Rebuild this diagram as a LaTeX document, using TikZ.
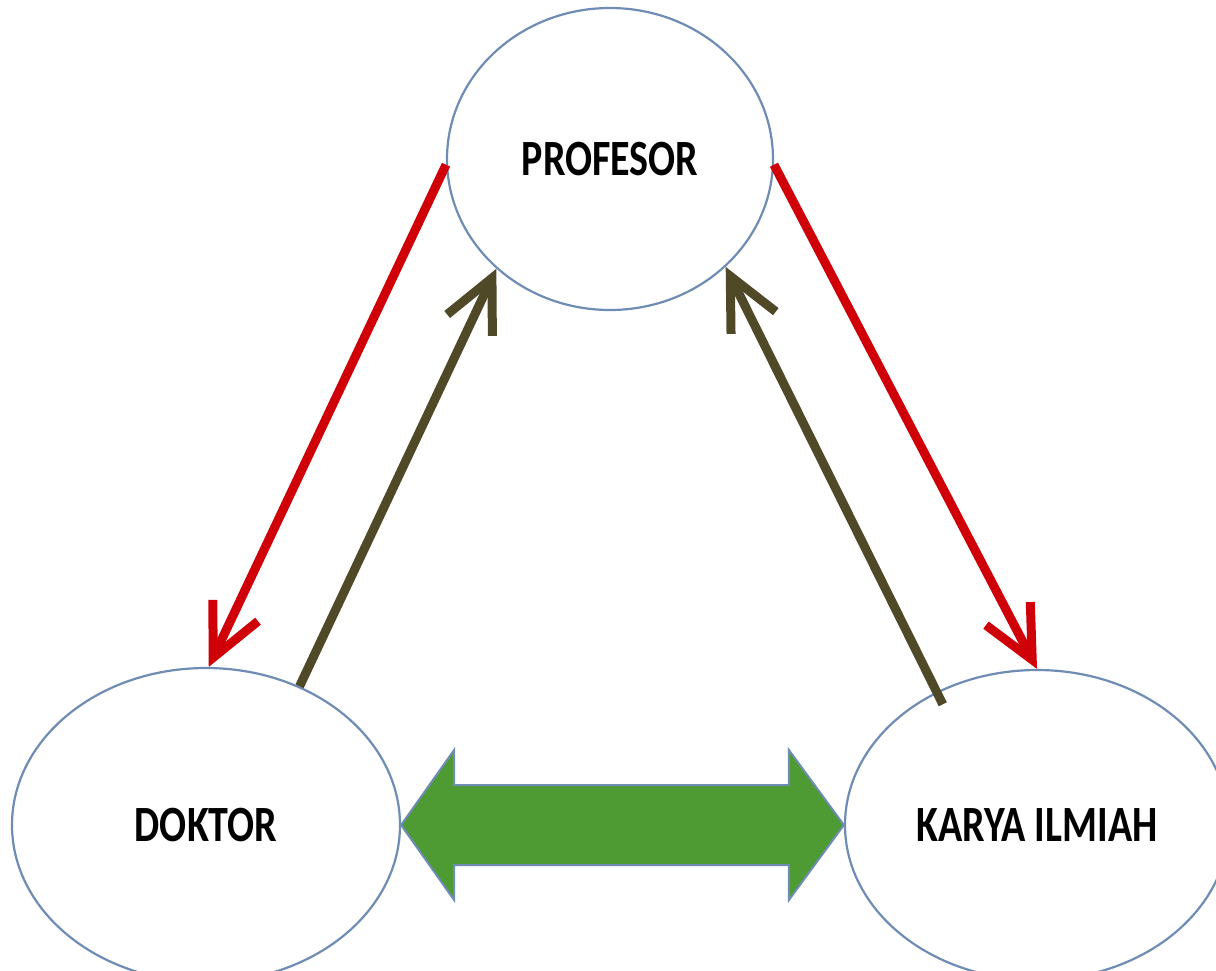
\documentclass[tikz,border=0pt]{standalone}
\usepackage{fontspec}
\setmainfont{Carlito}
\usetikzlibrary{arrows.meta,calc,shapes.geometric}
\definecolor{edgeblue}{RGB}{110,140,180}
\definecolor{redarrow}{RGB}{208,0,8}
\definecolor{olive}{RGB}{80,73,40}
\definecolor{greenfill}{RGB}{78,154,51}
\newcommand{\tallbf}[1]{\scalebox{1}[1.27]{\bfseries #1}}
\begin{document}
\begin{tikzpicture}[x=0.5pt,y=-0.5pt,
  bubble/.style={ellipse,draw=edgeblue,line width=1.1pt,inner sep=0pt,fill=white,font=\fontsize{20}{24}\selectfont},
  barb/.style={-{Straight Barb[length=26pt,width=25pt,line width=4.5pt]}},
  redarr/.style={draw=redarrow,line width=4.5pt,barb},
  olivearr/.style={draw=olive,line width=4.5pt,barb},
  biarrow/.style={draw=edgeblue,line width=1pt,fill=greenfill}]
\useasboundingbox (0,0) rectangle (1216,970);
\begin{scope}
\clip (0,0) rectangle (1216,970);
\node[bubble,minimum width=163pt,minimum height=151pt] (prof) at (610,159) {\tallbf{PROFESOR}};
\node[bubble,minimum width=194pt,minimum height=157pt] (dok) at (206,825) {\tallbf{DOKTOR}};
\node[bubble,minimum width=192pt,minimum height=155pt] (kar) at (1037,825) {\tallbf{KARYA ILMIAH}};
\end{scope}
\draw[redarr] (prof.182) -- (dok.89);
\draw[redarr] (prof.358) -- (kar.90);
\draw[olivearr] (dok.56) -- (prof.224);
\draw[olivearr,shorten <=-7pt] (kar.127) -- (prof.317);
\coordinate (gl) at (dok.east);
\coordinate (gr) at (kar.west);
\draw[biarrow] (gl) -- ($(gl)+(53,-75)$) -- ($(gl)+(53,-40)$) -- ($(gr)+(-55,-40)$) -- ($(gr)+(-55,-75)$)
  -- (gr) -- ($(gr)+(-55,75)$) -- ($(gr)+(-55,40)$) -- ($(gl)+(53,40)$) -- ($(gl)+(53,75)$) -- cycle;
\end{tikzpicture}
\end{document}
